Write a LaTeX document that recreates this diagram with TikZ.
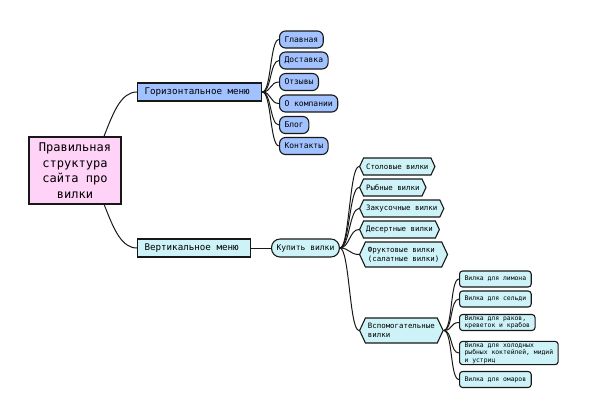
\documentclass[tikz,border=0pt]{standalone}
\usepackage{fontspec}
\setmainfont{DejaVu Sans Mono}
\usepackage{xcolor}
\usepackage{tikz}
\usetikzlibrary{shapes.symbols,backgrounds}

\definecolor{linecol}{HTML}{181818}
\definecolor{rootpink}{HTML}{FFD2F8}
\definecolor{menublue}{HTML}{A2C2FF}
\definecolor{forkcyan}{HTML}{CDF3F8}

\tikzset{
  box/.style={draw=linecol, line width=1.1pt, anchor=west, inner ysep=1pt},
  rootbox/.style={box, anchor=center, fill=rootpink, align=center, minimum width=92, minimum height=67,
    font=\fontsize{12}{15.5}\selectfont},
  menubox/.style={box, fill=#1, minimum height=18, inner xsep=7, font=\fontsize{9.2}{11}\selectfont,
    execute at end node=\hspace{5pt}},
  pagebox/.style={box, rounded corners=6, fill=menublue, minimum height=17, inner xsep=5,
    font=\fontsize{8}{9}\selectfont},
  buybox/.style={box, rounded corners=8.5, fill=forkcyan, minimum height=18, inner xsep=5,
    font=\fontsize{8}{9}\selectfont},
  kindbox/.style={box, signal, signal to=east and west, signal pointer angle=130, fill=forkcyan,
    minimum height=17, inner xsep=2.5, align=left, font=\fontsize{7.4}{9}\selectfont},
  usebox/.style={box, rounded corners=3, fill=forkcyan, minimum height=16, inner xsep=5, align=left,
    font=\fontsize{6.4}{7.6}\selectfont},
  link/.style={draw=linecol, line width=1pt}
}

\begin{document}
\begin{tikzpicture}[x=1pt,y=-1pt]
\useasboundingbox (0,0) rectangle (590,418);

\node[rootbox] (root) at (75,170.5) {Правильная\\структура\\сайта про\\вилки};

\node[menubox=menublue] (hor) at (137,92) {Горизонтальное меню};
\node[menubox=forkcyan] (ver) at (137,248) {Вертикальное меню};

\node[pagebox] (main) at (279,39.5) {Главная};
\node[pagebox] (deliv) at (279,60.5) {Доставка};
\node[pagebox] (revs) at (279,82) {Отзывы};
\node[pagebox] (about) at (279,103.5) {О компании};
\node[pagebox] (blog) at (279,125) {Блог};
\node[pagebox] (conts) at (279,146) {Контакты};

\node[buybox] (buy) at (271,248) {Купить вилки};

\node[kindbox] (table) at (359,166.5) {Столовые вилки};
\node[kindbox] (fish) at (359,187.5) {Рыбные вилки};
\node[kindbox] (snack) at (359,208.5) {Закусочные вилки};
\node[kindbox] (dessert) at (359,229.5) {Десертные вилки};
\node[kindbox, minimum height=25] (fruit) at (359,254.5) {Фруктовые вилки\\(салатные вилки)};
\node[kindbox, minimum height=25] (aux) at (359,330.5) {Вспомогательные\\вилки\hspace{3.1em}};

\node[usebox] (lemon) at (459,279) {Вилка для лимона};
\node[usebox] (herring) at (459,299) {Вилка для сельди};
\node[usebox] (crabs) at (459,322.5) {Вилка для раков,\\креветок и крабов};
\node[usebox] (oyster) at (459,353) {Вилка для холодных\\рыбных коктейлей, мидий\\и устриц};
\node[usebox] (lobster) at (459,379.5) {Вилка для омаров};

% links
\begin{scope}[on background layer]
\draw[link] (root.center) .. controls +(31,0) and +(-31,0) .. (hor.west);
\draw[link] (root.center) .. controls +(31,0) and +(-31,0) .. (ver.west);
\end{scope}
\draw[link] (hor.east) .. controls +(9,0) and +(-9,0) .. (main.west);
\draw[link] (hor.east) .. controls +(9,0) and +(-9,0) .. (deliv.west);
\draw[link] (hor.east) .. controls +(9,0) and +(-9,0) .. (revs.west);
\draw[link] (hor.east) .. controls +(9,0) and +(-9,0) .. (about.west);
\draw[link] (hor.east) .. controls +(9,0) and +(-9,0) .. (blog.west);
\draw[link] (hor.east) .. controls +(9,0) and +(-9,0) .. (conts.west);
\draw[link] (ver.east) -- (buy.west);
\draw[link] (buy.east) .. controls +(9.5,0) and +(-9.5,0) .. (table.west);
\draw[link] (buy.east) .. controls +(9.5,0) and +(-9.5,0) .. (fish.west);
\draw[link] (buy.east) .. controls +(9.5,0) and +(-9.5,0) .. (snack.west);
\draw[link] (buy.east) .. controls +(9.5,0) and +(-9.5,0) .. (dessert.west);
\draw[link] (buy.east) .. controls +(9.5,0) and +(-9.5,0) .. (fruit.west);
\draw[link] (buy.east) .. controls +(9.5,0) and +(-9.5,0) .. (aux.west);
\draw[link] (aux.east) .. controls +(9,0) and +(-9,0) .. (lemon.west);
\draw[link] (aux.east) .. controls +(9,0) and +(-9,0) .. (herring.west);
\draw[link] (aux.east) .. controls +(9,0) and +(-9,0) .. (crabs.west);
\draw[link] (aux.east) .. controls +(9,0) and +(-9,0) .. (oyster.west);
\draw[link] (aux.east) .. controls +(9,0) and +(-9,0) .. (lobster.west);
\end{tikzpicture}
\end{document}
